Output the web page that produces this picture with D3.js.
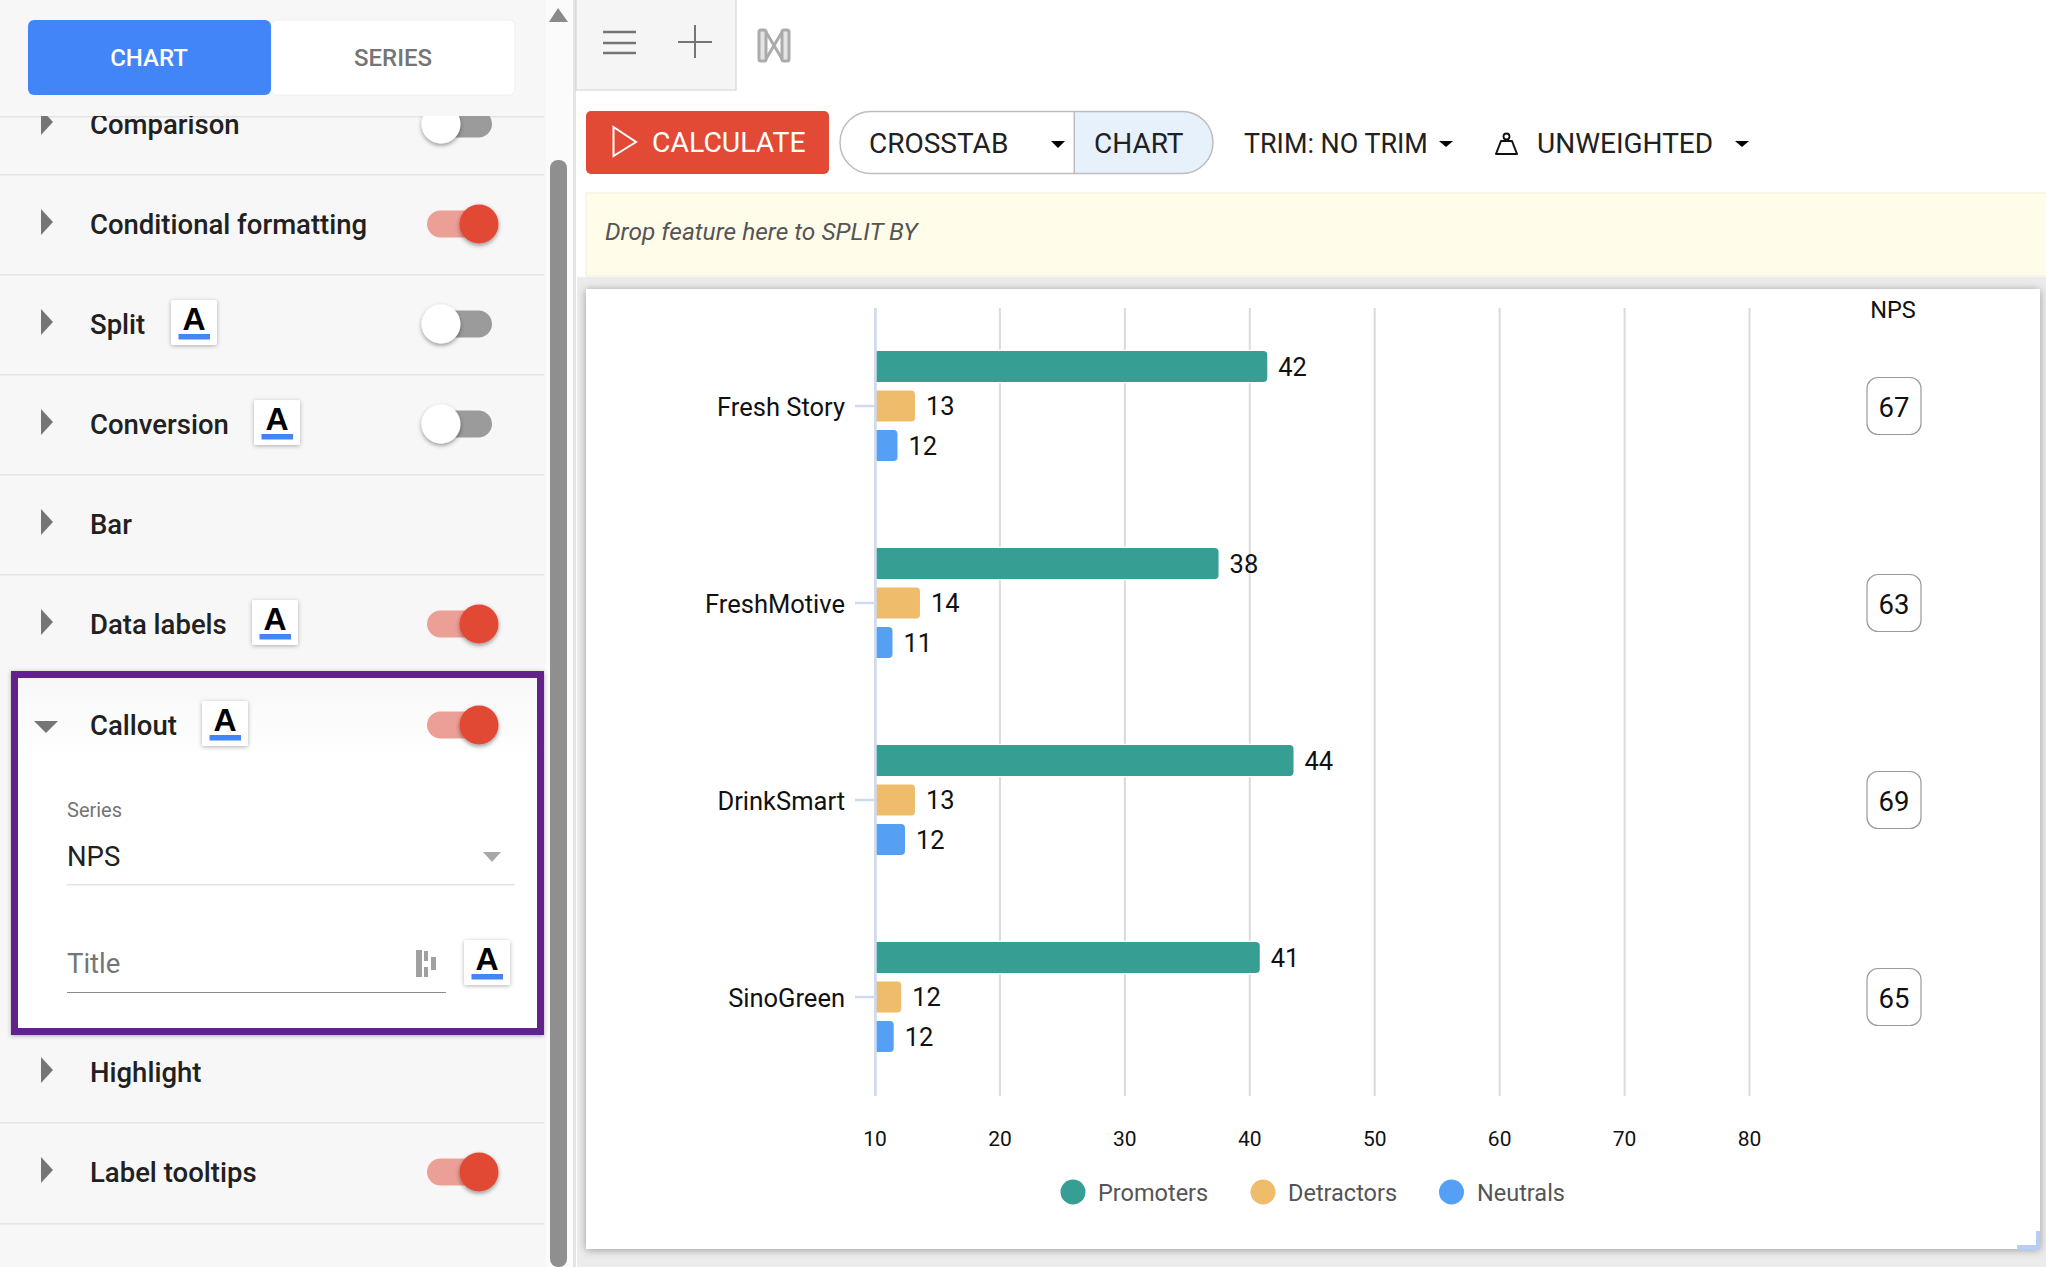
<!DOCTYPE html>
<html lang="en">
<head>
<meta charset="UTF-8">
<title>NPS chart settings</title>
<script src="https://d3js.org/d3.v7.min.js"></script>
<style>
    html, body { margin: 0; padding: 0; background: #fff; }
    svg { display: block; font-family: Roboto, sans-serif; }
    .axis text { font-family: Roboto, sans-serif; fill: #111; }
</style>
</head>
<body>
<svg id="page" width="2046" height="1267"></svg>
<script>
// chart data
const brands = ["Fresh Story", "FreshMotive", "DrinkSmart", "SinoGreen"];
const seriesNames = ["Promoters", "Detractors", "Neutrals"];
const seriesColors = ["#369e93", "#efbc6b", "#559ff5"];
const promoters = [41.4, 37.5, 43.5, 40.8];
const detractors = [13.2, 13.6, 13.2, 12.1];
const neutrals = [11.8, 11.4, 12.4, 11.5];
// the printed labels are rounded differently from the drawn bar lengths
const promoterLabels = ["42", "38", "44", "41"];
const detractorLabels = ["13", "14", "13", "12"];
const neutralLabels = ["12", "11", "12", "12"];
const npsValues = ["67", "63", "69", "65"];
const xTicks = [10, 20, 30, 40, 50, 60, 70, 80];

// sidebar rows
const rowNames = ["Comparison", "Conditional formatting", "Split", "Conversion", "Bar", "Data labels", "Callout", "Highlight", "Label tooltips"];
const rowY = [124, 224, 324, 424, 524, 624, 725, 1072, 1172];
const rowIconX = [null, null, 171, 254, null, 252, 202, null, null];
const rowToggle = ["off", "on", "off", "off", null, "on", "on", null, "on"];
const dividerY = [116, 174, 274, 374, 474, 574, 1122, 1223];

const svg = d3.select("#page");
const defs = svg.append("defs");

function addShadow(id, dy, blur, opacity) {
    defs.append("filter").attr("id", id)
        .attr("x", "-20%").attr("y", "-20%").attr("width", "140%").attr("height", "140%")
        .append("feDropShadow")
        .attr("dx", 0).attr("dy", dy).attr("stdDeviation", blur)
        .attr("flood-color", "#000").attr("flood-opacity", opacity);
}
addShadow("soft", 1, 2, 0.3);
addShadow("knob", 2, 2, 0.4);
addShadow("card", 1, 4, 0.35);

function rect(parent, x0, y0, x1, y1, fill, rx) {
    return parent.append("rect")
        .attr("x", x0).attr("y", y0)
        .attr("width", x1 - x0).attr("height", y1 - y0)
        .attr("rx", rx || 0)
        .attr("fill", fill);
}
function label(parent, x, y, str, size, color, weight) {
    return parent.append("text")
        .attr("x", x).attr("y", y)
        .attr("font-size", size)
        .attr("font-weight", weight || 400)
        .attr("fill", color)
        .text(str);
}
function poly(parent, pts, fill) {
    return parent.append("polygon").attr("points", pts.join(" ")).attr("fill", fill);
}

/* ---------- sidebar ---------- */
const side = svg.append("g");
rect(side, 0, 0, 546, 1267, "#f7f7f7");
rect(side, 546, 0, 574, 1267, "#fbfbfb");
rect(side, 550, 160, 567, 1267, "#8f8f8f", 8);
rect(side, 573, 0, 576, 1267, "#e4e4e4");

dividerY.forEach(y => rect(side, 0, y, 544, y + 1.5, "#e4e4e4"));

function aIcon(parent, x, y) {
    const g = parent.append("g").attr("transform", `translate(${x},${y})`);
    rect(g, 0, 0, 46, 45, "#fff", 2).attr("filter", "url(#soft)");
    g.append("text").attr("x", 23).attr("y", 30).attr("text-anchor", "middle")
        .attr("font-family", "Liberation Sans").attr("font-weight", 700)
        .attr("font-size", 32).attr("fill", "#000").text("A");
    rect(g, 7.5, 34, 39, 39.5, "#4285f8");
}
function toggle(parent, y, state) {
    const on = state === "on";
    rect(parent, 427, y - 13.5, 492, y + 13.5, on ? "#eb9f96" : "#9b9b9b", 13.5);
    parent.append("circle")
        .attr("cx", on ? 479 : 441).attr("cy", y).attr("r", 19.5)
        .attr("fill", on ? "#e24a35" : "#fff")
        .attr("filter", "url(#knob)");
}

// the callout panel sits under its row
const panelGrad = defs.append("linearGradient").attr("id", "panelFill")
    .attr("x1", 0).attr("x2", 0).attr("y1", 0).attr("y2", 1);
panelGrad.append("stop").attr("offset", "0").attr("stop-color", "#f7f7f7");
panelGrad.append("stop").attr("offset", "0.24").attr("stop-color", "#fff");
side.append("rect")
    .attr("x", 14.5).attr("y", 674.5).attr("width", 526).attr("height", 357)
    .attr("fill", "url(#panelFill)")
    .attr("stroke", "#64218a").attr("stroke-width", 7)
    .attr("filter", "url(#soft)");

rowNames.forEach((name, i) => {
    const y = rowY[i];
    if (name === "Callout") {
        poly(side, [`34,${y - 4}`, `58,${y - 4}`, `46,${y + 8}`], "#757575");
    } else {
        poly(side, [`41,${y - 15}`, `53,${y - 2}`, `41,${y + 11}`], "#757575");
    }
    label(side, 90, y + 10, name, 27.5, "#212121", 500);
    if (rowIconX[i] !== null) aIcon(side, rowIconX[i], y - 24);
    if (rowToggle[i]) toggle(side, y, rowToggle[i]);
});

label(side, 67, 817, "Series", 20, "#757575");
label(side, 67, 866, "NPS", 27.5, "#212121");
poly(side, ["483,852", "501,852", "492,862"], "#a8a8a8");
rect(side, 67, 884, 515, 885.5, "#e4e4e4");
label(side, 67, 973, "Title", 27.5, "#757575");
rect(side, 67, 992, 446, 993, "#8a8a8a");
rect(side, 416, 950, 422, 977, "#a0a0a0");
rect(side, 424, 951, 428, 961, "#a0a0a0");
rect(side, 424, 967, 428, 977, "#a0a0a0");
rect(side, 431, 957, 436, 970, "#a0a0a0");
aIcon(side, 464, 940);

// header with tabs covers the clipped first row
rect(side, 0, 0, 544, 116, "#f7f7f7");
rect(side, 271, 20, 515, 95, "#fff", 6).attr("stroke", "#efefef");
rect(side, 28, 20, 271, 95, "#4285f8", 6);
label(side, 149, 66, "CHART", 24, "#fff", 500).attr("text-anchor", "middle");
label(side, 393, 66, "SERIES", 24, "#757575", 500).attr("text-anchor", "middle");
poly(side, ["558,8", "549,22", "568,22"], "#8a8a8a");

/* ---------- toolbar ---------- */
const bar = svg.append("g");
rect(bar, 576, -2, 736, 90, "#f5f5f5").attr("stroke", "#cfcfcf");
[32, 43, 53].forEach(y => rect(bar, 603, y - 1.25, 636, y + 1.25, "#757575"));
rect(bar, 678, 41, 712, 43, "#757575");
rect(bar, 694, 25, 696, 58, "#757575");
// logo
bar.append("rect").attr("x", 759).attr("y", 30).attr("width", 7).attr("height", 31).attr("rx", 2)
    .attr("fill", "#e4e4e4").attr("stroke", "#ababab").attr("stroke-width", 3);
bar.append("rect").attr("x", 782).attr("y", 30).attr("width", 7).attr("height", 31).attr("rx", 2)
    .attr("fill", "#e4e4e4").attr("stroke", "#ababab").attr("stroke-width", 3);
bar.append("path").attr("d", "M766,32 L782,59 M782,32 L766,59")
    .attr("stroke", "#ababab").attr("stroke-width", 3).attr("fill", "none");

rect(bar, 586, 111, 829, 174, "#e24a35", 5);
bar.append("polygon").attr("points", "613.5,127 636,142 613.5,156")
    .attr("fill", "none").attr("stroke", "#fff").attr("stroke-width", 2);
label(bar, 652, 152, "CALCULATE", 28.4, "#fff");

// crosstab / chart switch
bar.append("path").attr("d", "M1074,111.5 H1182 A31,31 0 0 1 1182,173.5 H1074 Z").attr("fill", "#e6f1fb");
bar.append("rect").attr("x", 840).attr("y", 111.5).attr("width", 373).attr("height", 62).attr("rx", 31)
    .attr("fill", "none").attr("stroke", "#bdbdbd").attr("stroke-width", 1.5);
rect(bar, 1073.5, 111.5, 1075, 173.5, "#bdbdbd");
label(bar, 869, 153, "CROSSTAB", 28, "#212121");
poly(bar, ["1051,141", "1065,141", "1058,148"], "#000");
label(bar, 1094, 153, "CHART", 28, "#212121");
label(bar, 1244, 153, "TRIM: NO TRIM", 26.9, "#212121");
poly(bar, ["1439,141", "1453,141", "1446,147"], "#000");
bar.append("path").attr("d", "M1501,141 H1512 L1517,154 H1496 Z")
    .attr("fill", "none").attr("stroke", "#111").attr("stroke-width", 2).attr("stroke-linejoin", "round");
bar.append("circle").attr("cx", 1506.5).attr("cy", 136.5).attr("r", 3)
    .attr("fill", "none").attr("stroke", "#111").attr("stroke-width", 1.8);
label(bar, 1537, 152.5, "UNWEIGHTED", 28, "#212121");
poly(bar, ["1735,141", "1749,141", "1742,147"], "#000");

// split banner
rect(bar, 586, 193, 2050, 276, "#fffcea").attr("stroke", "#f3eedd");
label(bar, 605, 240, "Drop feature here to SPLIT BY", 24.5, "#555").attr("font-style", "italic");

/* ---------- chart card ---------- */
rect(svg, 577, 277, 2046, 1267, "#ececec");
rect(svg, 586, 289, 2040, 1249, "#fff").attr("filter", "url(#card)");
rect(svg, 2036, 1231, 2040, 1250, "#b8cdf5");
rect(svg, 2017, 1245, 2040, 1250, "#b8cdf5");

const valueArrays = [promoters, detractors, neutrals];
const labelArrays = [promoterLabels, detractorLabels, neutralLabels];

const x = d3.scaleLinear().domain([10, 80]).range([874.5, 1749]);
const y = d3.scaleBand().domain(brands).range([307.5, 1095.5]);
const inner = d3.scaleBand().domain(seriesNames)
    .range([0, y.bandwidth()]).paddingInner(0.21).paddingOuter(1.1);

const chart = svg.append("g");

const xAxis = chart.append("g").attr("class", "axis")
    .attr("transform", "translate(0,1096)")
    .call(d3.axisBottom(x).tickValues(xTicks).tickSize(-788).tickPadding(35));
xAxis.select(".domain").remove();
xAxis.selectAll("line").attr("stroke", "#dadada").attr("stroke-width", 2);
xAxis.selectAll("text").attr("font-size", 21);

function barPath(x0, x1, y0, h) {
    const r = 4;
    return `M${x0},${y0} H${x1 - r} Q${x1},${y0} ${x1},${y0 + r} V${y0 + h - r} Q${x1},${y0 + h} ${x1 - r},${y0 + h} H${x0} Z`;
}

seriesNames.forEach((name, s) => {
    const g = chart.append("g").attr("class", "series");
    g.selectAll("path")
        .data(brands)
        .join("path")
        .attr("d", (d, i) => barPath(x(10) + 1.5, x(valueArrays[s][i]) + 0.5, y(d) + inner(name), inner.bandwidth()))
        .attr("fill", seriesColors[s])
        .attr("stroke", "#fff")
        .attr("stroke-width", 2.5)
        .attr("paint-order", "stroke");
    g.selectAll("text")
        .data(brands)
        .join("text")
        .attr("x", (d, i) => x(valueArrays[s][i]) + 11.5)
        .attr("y", d => y(d) + inner(name) + inner.bandwidth() / 2)
        .attr("dy", "0.37em")
        .attr("font-size", 25.5)
        .attr("fill", "#111")
        .text((d, i) => labelArrays[s][i]);
});

// category axis on top, its domain line is the pale baseline
const yAxis = chart.append("g").attr("class", "axis")
    .attr("transform", "translate(875,0)")
    .call(d3.axisLeft(y).tickSize(20).tickPadding(10).tickSizeOuter(0));
yAxis.select(".domain").attr("stroke", "#cddaf0").attr("stroke-width", 2.5);
yAxis.selectAll("line").attr("stroke", "#cddaf0").attr("stroke-width", 2.5);
yAxis.selectAll("text").attr("font-size", 25.5).attr("dy", "0.40em");

// NPS callouts
label(chart, 1893, 318, "NPS", 23.5, "#111").attr("text-anchor", "middle");
const callouts = chart.append("g").selectAll("g")
    .data(brands)
    .join("g")
    .attr("transform", d => `translate(1894,${y(d) + y.bandwidth() / 2})`);
callouts.append("rect")
    .attr("x", -27).attr("y", -28.5).attr("width", 54).attr("height", 57).attr("rx", 11)
    .attr("fill", "#fff").attr("stroke", "#9a9a9a").attr("stroke-width", 1.2);
callouts.append("text")
    .attr("text-anchor", "middle").attr("dy", "0.39em")
    .attr("font-size", 27.5).attr("fill", "#111")
    .text((d, i) => npsValues[i]);

// legend
const legendCx = [1073, 1263, 1451.5];
const legendTx = [1098, 1288, 1477];
const legend = chart.append("g").selectAll("g")
    .data(seriesNames)
    .join("g");
legend.append("circle")
    .attr("cx", (d, i) => legendCx[i]).attr("cy", 1192).attr("r", 12.5)
    .attr("fill", (d, i) => seriesColors[i]);
legend.append("text")
    .attr("x", (d, i) => legendTx[i]).attr("y", 1193).attr("dy", "0.36em")
    .attr("font-size", 23.5).attr("fill", "#555")
    .text(d => d);
</script>
</body>
</html>
